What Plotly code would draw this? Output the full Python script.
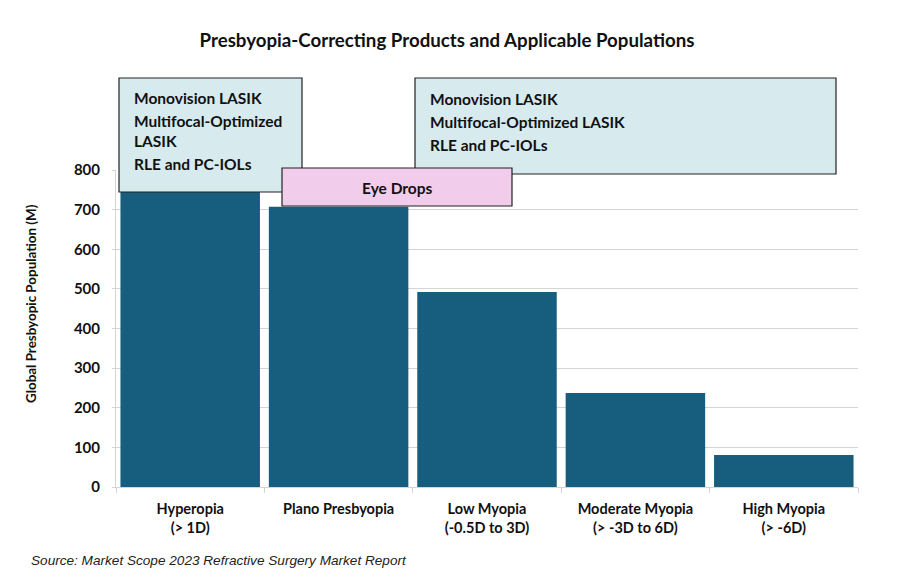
import plotly.graph_objects as go

categories = ["<b>Hyperopia</b><br><b>(> 1D)</b>", "<b>Plano Presbyopia</b>", "<b>Low Myopia</b><br><b>(-0.5D to 3D)</b>",
              "<b>Moderate Myopia</b><br><b>(> -3D to 6D)</b>", "<b>High Myopia</b><br><b>(> -6D)</b>"]
values = [830, 707, 492, 237, 81]
y_ticks = [0, 100, 200, 300, 400, 500, 600, 700, 800]
y_tick_labels = ["<b>%d</b>" % v for v in y_ticks]

OFF = 8  # page body margin offset
W, H = 900 - OFF, 588 - OFF
L, R, T, B = 116 - OFF, 858 - OFF, 170 - OFF, 487 - OFF

def px(x):
    return (x - OFF - L) / (R - L)

def py(y):
    return (B - (y - OFF)) / (B - T)

FONT = "Lato"
fig = go.Figure(go.Bar(x=categories, y=values, marker=dict(color="#175e7e", line=dict(width=0)),
                       cliponaxis=True))

shapes = [
    dict(type="rect", xref="paper", yref="paper", x0=px(119), x1=px(302), y0=py(192), y1=py(78),
         fillcolor="#d7ebef", line=dict(color="#222222", width=1.2), layer="above"),
    dict(type="rect", xref="paper", yref="paper", x0=px(415), x1=px(836), y0=py(174), y1=py(78),
         fillcolor="#d7ebef", line=dict(color="#222222", width=1.2), layer="above"),
    dict(type="rect", xref="paper", yref="paper", x0=px(282), x1=px(512), y0=py(206), y1=py(168),
         fillcolor="#f2cdeb", line=dict(color="#222222", width=1.2), layer="above"),
]

ann = [
    dict(text="<b>Monovision LASIK</b>", x=px(132), y=py(98)),
    dict(text="<b>Multifocal-Optimized</b>", x=px(132), y=py(121)),
    dict(text="<b>LASIK</b>", x=px(132), y=py(141)),
    dict(text="<b>RLE and PC-IOLs</b>", x=px(132), y=py(164)),
    dict(text="<b>Monovision LASIK</b>", x=px(428), y=py(99)),
    dict(text="<b>Multifocal-Optimized LASIK</b>", x=px(428), y=py(122)),
    dict(text="<b>RLE and PC-IOLs</b>", x=px(428), y=py(145)),
]
annotations = []
for a in ann:
    a.update(xref="paper", yref="paper", xanchor="left", yanchor="middle", showarrow=False,
             font=dict(family=FONT, size=15.5, color="#111111"))
    annotations.append(a)
annotations.append(dict(text="<b>Eye Drops</b>", xref="paper", yref="paper", x=px(397), y=py(188),
                        xanchor="center", yanchor="middle", showarrow=False,
                        font=dict(family=FONT, size=15.5, color="#111111")))
annotations.append(dict(text="<i>Source: Market Scope 2023 Refractive Surgery Market Report</i>",
                        xref="paper", yref="paper", x=px(29), y=py(560), xanchor="left",
                        yanchor="middle", showarrow=False,
                        font=dict(family="Liberation Sans", size=13.6, color="#222222")))
annotations.append(dict(text="<b>Global Presbyopic Population (M)</b>", textangle=-90,
                        xref="paper", yref="paper", x=px(31), y=py(304), xanchor="center",
                        yanchor="middle", showarrow=False,
                        font=dict(family=FONT, size=13.4, color="#111111")))

fig.update_layout(
    width=W, height=H,
    margin=dict(l=L, r=W - R, t=T, b=H - B),
    paper_bgcolor="white", plot_bgcolor="white",
    title=dict(text="<b>Presbyopia-Correcting Products and Applicable Populations</b>",
               x=(447 - OFF) / W, xanchor="center", y=1 - (40 - OFF) / H, yanchor="middle",
               font=dict(family=FONT, size=18.7, color="#111111")),
    bargap=0.06,
    showlegend=False,
    shapes=shapes,
    annotations=annotations,
    font=dict(family=FONT, color="#111111"),
)
fig.update_yaxes(range=[0, 800], tickvals=y_ticks, ticktext=y_tick_labels, showgrid=True,
                 gridcolor="#d4d4d4", gridwidth=1,
                 showline=True, linecolor="#d4d4d4", zeroline=False,
                 ticks="outside", ticklen=3, tickcolor="#d4d4d4", ticklabelstandoff=9,
                 tickfont=dict(family=FONT, size=15, color="#111111"))
fig.update_xaxes(showline=True, linecolor="#d4d4d4", ticks="outside", tickcolor="#d4d4d4",
                 ticklen=5, tickson="boundaries", ticklabelstandoff=9,
                 tickfont=dict(family=FONT, size=14.5, color="#111111"))

fig.write_html("out.html")
